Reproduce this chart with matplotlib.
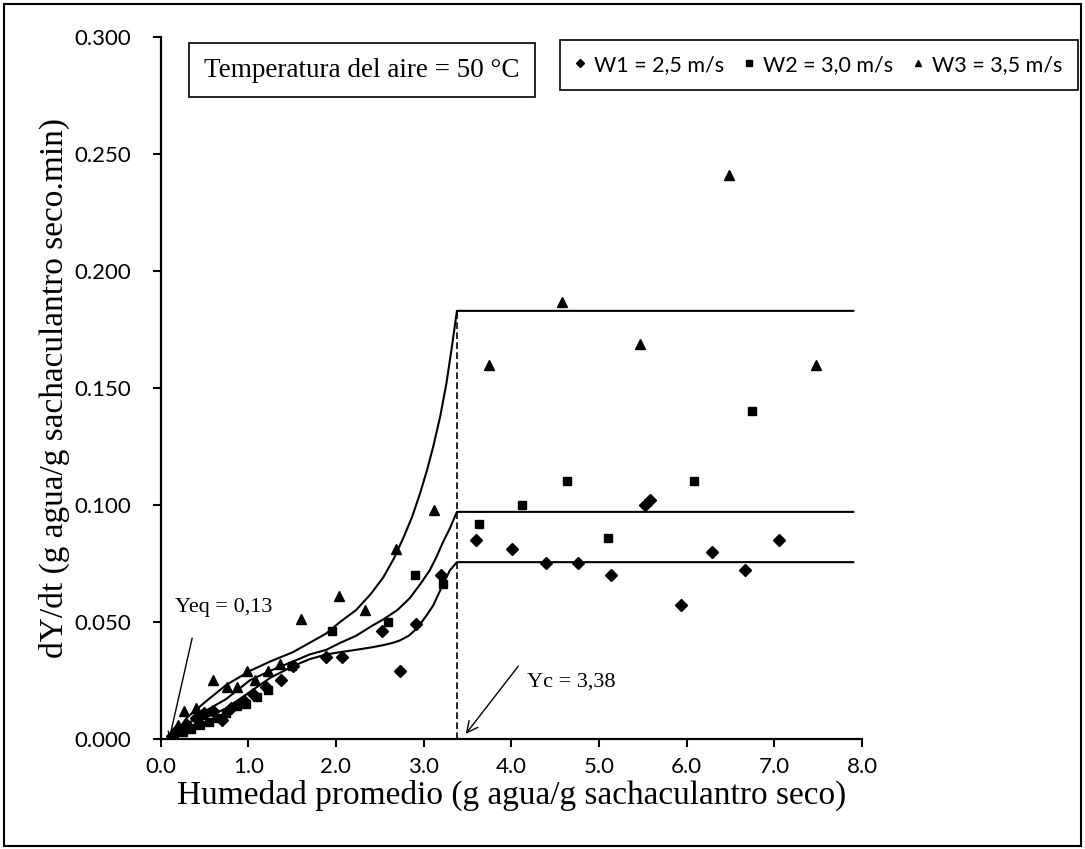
import numpy as np
import matplotlib.pyplot as plt
from matplotlib.patches import Rectangle
from matplotlib.ticker import FormatStrFormatter

# data
x_w1 = [0.13, 0.20, 0.30, 0.40, 0.50, 0.60, 0.70, 0.80, 0.95, 1.05, 1.20, 1.37, 1.51,
        1.89, 2.07, 2.53, 2.73, 2.91, 3.20, 3.60, 4.01, 4.40, 4.76, 5.14, 5.53, 5.58,
        5.94, 6.29, 6.66, 7.05]
y_w1 = [0.001, 0.004, 0.006, 0.009, 0.011, 0.012, 0.008, 0.013, 0.016, 0.019, 0.022,
        0.025, 0.031, 0.035, 0.035, 0.046, 0.029, 0.049, 0.070, 0.085, 0.081, 0.075,
        0.075, 0.070, 0.100, 0.102, 0.057, 0.080, 0.072, 0.085]

x_w2 = [0.15, 0.25, 0.35, 0.45, 0.55, 0.65, 0.75, 0.87, 0.97, 1.10, 1.22, 1.50,
        1.96, 2.59, 2.90, 3.22, 3.63, 4.12, 4.63, 5.10, 6.08, 6.74]
y_w2 = [0.001, 0.003, 0.004, 0.006, 0.007, 0.009, 0.011, 0.014, 0.015, 0.018, 0.021,
        0.031, 0.046, 0.050, 0.070, 0.066, 0.092, 0.100, 0.110, 0.086, 0.110, 0.140]

x_w3 = [0.13, 0.20, 0.27, 0.40, 0.60, 0.76, 0.87, 0.99, 1.08, 1.22, 1.36, 1.60,
        2.04, 2.33, 2.68, 3.12, 3.75, 4.58, 5.47, 6.48, 7.48]
y_w3 = [0.002, 0.006, 0.012, 0.013, 0.025, 0.022, 0.022, 0.029, 0.025, 0.029, 0.032,
        0.051, 0.061, 0.055, 0.081, 0.098, 0.160, 0.187, 0.169, 0.241, 0.160]

# fitted curves, flat after Yc
x_fit1 = [0.13, 0.30, 0.52, 0.75, 1.02, 1.25, 1.51, 1.70, 1.89, 2.05, 2.23, 2.40, 2.54,
          2.65, 2.73, 2.83, 2.92, 3.02, 3.11, 3.22, 3.30, 3.38, 7.9]
y_fit1 = [0.000, 0.004, 0.009, 0.013, 0.020, 0.026, 0.031, 0.034, 0.036, 0.037, 0.038,
          0.039, 0.040, 0.041, 0.042, 0.044, 0.047, 0.052, 0.057, 0.066, 0.072, 0.0755,
          0.0755]
x_fit2 = [0.13, 0.30, 0.52, 0.75, 1.02, 1.25, 1.51, 1.70, 1.89, 2.05, 2.23, 2.40, 2.54,
          2.70, 2.84, 2.96, 3.07, 3.15, 3.22, 3.30, 3.38, 7.9]
y_fit2 = [0.000, 0.006, 0.012, 0.017, 0.025, 0.029, 0.033, 0.036, 0.038, 0.041, 0.044,
          0.048, 0.051, 0.055, 0.060, 0.066, 0.072, 0.078, 0.084, 0.090, 0.097, 0.097]
x_fit3 = [0.13, 0.30, 0.52, 0.75, 1.02, 1.25, 1.51, 1.70, 1.89, 2.05, 2.23, 2.40, 2.54,
          2.66, 2.77, 2.87, 2.96, 3.04, 3.11, 3.19, 3.26, 3.32, 3.38, 7.9]
y_fit3 = [0.000, 0.009, 0.016, 0.023, 0.029, 0.033, 0.037, 0.041, 0.045, 0.050, 0.055,
          0.062, 0.069, 0.077, 0.086, 0.095, 0.105, 0.115, 0.125, 0.138, 0.152, 0.167,
          0.183, 0.183]

Yeq = 0.13
Yc = 3.38
labels = ['W1 = 2,5 m/s', 'W2 = 3,0 m/s', 'W3 = 3,5 m/s']

serif = 'Liberation Serif'
sans = 'Lato'

fig = plt.figure(figsize=(10.85, 8.49), dpi=100)
ax = fig.add_axes([0.148, 0.130, 0.6465, 0.826])

ax.plot(x_fit1, y_fit1, 'k-', lw=1.5)
ax.plot(x_fit2, y_fit2, 'k-', lw=1.5)
ax.plot(x_fit3, y_fit3, 'k-', lw=1.5)
ax.vlines(Yc, 0, max(y_fit3), colors='k', linestyles=(0, (4, 2)), lw=1.2)

h1, = ax.plot(x_w1, y_w1, 'kD', ms=6, ls='none', label=labels[0])
h2, = ax.plot(x_w2, y_w2, 'ks', ms=6, ls='none', label=labels[1])
h3, = ax.plot(x_w3, y_w3, 'k^', ms=7, ls='none', label=labels[2])

ax.set_xlim(0, 8)
ax.set_ylim(0, 0.3)
ax.set_xticks(np.arange(0, 8.1, 1.0))
ax.set_yticks(np.arange(0, 0.301, 0.05))
ax.xaxis.set_major_formatter(FormatStrFormatter('%.1f'))
ax.yaxis.set_major_formatter(FormatStrFormatter('%.3f'))
for s in ['top', 'right']:
    ax.spines[s].set_visible(False)
for s in ['left', 'bottom']:
    ax.spines[s].set_linewidth(1.6)
ax.tick_params(direction='out', length=6, width=1.5, labelsize=16)
ax.tick_params(axis='y', pad=15)
ax.tick_params(axis='x', pad=7)
for lab in ax.get_xticklabels() + ax.get_yticklabels():
    lab.set_fontfamily(sans)

ax.set_xlabel('Humedad promedio (g agua/g sachaculantro seco)', family=serif,
              fontsize=24, labelpad=2)
ax.set_ylabel('dY/dt (g agua/g sachaculantro seco.min)', family=serif,
              fontsize=24, labelpad=3)

ax.text(0.16, 0.056, 'Yeq = 0,13', family=serif, fontsize=16, va='center', ha='left')
ax.annotate('', xy=(Yeq - 0.03, 0.0), xytext=(0.36, 0.043),
            arrowprops=dict(arrowstyle='->', color='k', lw=1, shrinkA=0, shrinkB=0))
ax.text(4.18, 0.024, 'Yc = 3,38', family=serif, fontsize=16, va='center', ha='left')
ax.annotate('', xy=(Yc + 0.1, 0.002), xytext=(4.08, 0.031),
            arrowprops=dict(arrowstyle='->', color='k', lw=1,
                            shrinkA=0, shrinkB=0, mutation_scale=20))

fig.text(0.3336, 0.9175, 'Temperatura del aire = 50 °C', family=serif, fontsize=19.5,
         ha='center', va='center',
         bbox=dict(boxstyle='square,pad=0.55', fc='white', ec='black', lw=1.2))

leg = fig.legend(handles=[h1, h2, h3], loc='center', bbox_to_anchor=(0.7547, 0.9234),
                 ncol=3, fancybox=False, edgecolor='black', framealpha=1,
                 handlelength=0.5, handletextpad=0.4, columnspacing=0.9,
                 markerscale=0.65, borderpad=0.7, prop={'family': sans, 'size': 15.5})
leg.get_frame().set_linewidth(1.2)

fig.add_artist(Rectangle((0.004, 0.004), 0.992, 0.991, transform=fig.transFigure,
                         fill=False, ec='black', lw=1.5))

fig.savefig('out.png', dpi=100)
